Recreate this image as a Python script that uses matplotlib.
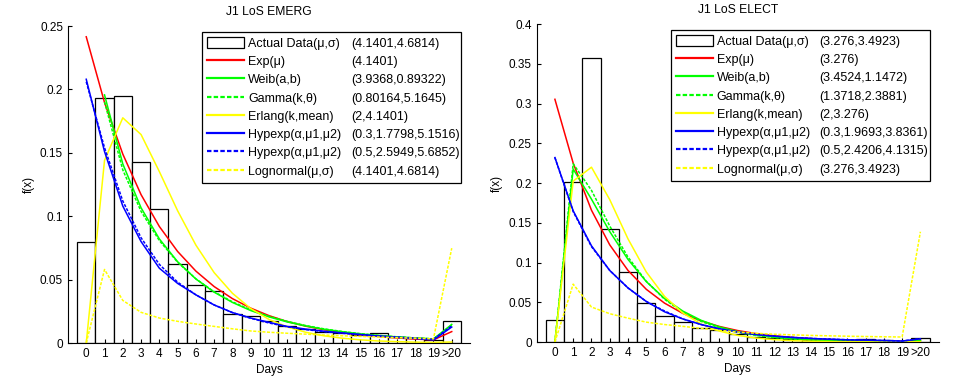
import numpy as np
import matplotlib
matplotlib.use('Agg')
import matplotlib.pyplot as plt
from matplotlib.patches import Rectangle
from matplotlib.lines import Line2D

plt.rcParams['font.family'] = ['Liberation Sans', 'DejaVu Sans']
plt.rcParams['font.size'] = 8.5

nan = np.nan
days = np.arange(21)
day_labels = [str(d) for d in range(20)] + ['>20']

labels = ['Actual Data(\u03bc,\u03c3)', 'Exp(\u03bc)', 'Weib(a,b)', 'Gamma(k,\u03b8)',
          'Erlang(k,mean)', 'Hypexp(\u03b1,\u03bc1,\u03bc2)', 'Hypexp(\u03b1,\u03bc1,\u03bc2)',
          'Lognormal(\u03bc,\u03c3)']

# J1 LoS EMERG
emerg_data = [0.0795, 0.193, 0.1946, 0.1426, 0.1056, 0.0622, 0.0457, 0.041, 0.0226, 0.021,
              0.0171, 0.0134, 0.0108, 0.0089, 0.0076, 0.0063, 0.0079, 0.005, 0.0042, 0.0021, 0.0173]
emerg_exp = [0.2415, 0.1897, 0.149, 0.117, 0.0919, 0.0722, 0.0567, 0.0445, 0.035, 0.0275,
             0.0216, 0.0169, 0.0133, 0.0105, 0.0082, 0.0064, 0.0051, 0.004, 0.0031, 0.0025, 0.009]
emerg_weib = [nan, 0.1957, 0.1412, 0.1066, 0.0821, 0.0641, 0.0505, 0.0401, 0.032, 0.0256,
              0.0206, 0.0166, 0.0135, 0.0109, 0.0089, 0.0072, 0.0059, 0.0048, 0.004, 0.0032, 0.0147]
emerg_gamma = [nan, 0.1901, 0.1365, 0.1038, 0.0808, 0.0637, 0.0506, 0.0404, 0.0325, 0.0261,
               0.0211, 0.0171, 0.0138, 0.0112, 0.0091, 0.0074, 0.006, 0.0049, 0.004, 0.0033, 0.014]
emerg_erlang = [0, 0.144, 0.1776, 0.1644, 0.1352, 0.1043, 0.0772, 0.0555, 0.0392, 0.0272,
                0.0186, 0.0127, 0.0085, 0.0057, 0.0038, 0.0025, 0.0016, 0.0011, 0.0007, 0.0005, 0.0008]
emerg_hyp1 = [0.208, 0.151, 0.108, 0.080, 0.059, 0.047, 0.038, 0.030, 0.024, 0.0197,
              0.0163, 0.013, 0.011, 0.0093, 0.008, 0.0067, 0.0055, 0.0045, 0.0036, 0.0024, 0.0126]
emerg_hyp2 = [0.206, 0.154, 0.112, 0.083, 0.062, 0.048, 0.038, 0.030, 0.024, 0.0195,
              0.0158, 0.0128, 0.0106, 0.009, 0.0077, 0.0066, 0.0055, 0.0046, 0.0038, 0.003, 0.0135]
emerg_logn = [0, 0.058, 0.0336, 0.0242, 0.0197, 0.0171, 0.015, 0.0131, 0.0112, 0.0095,
              0.0085, 0.0077, 0.007, 0.0063, 0.0057, 0.0052, 0.0047, 0.0042, 0.0038, 0.0033, 0.0748]
emerg_params = ['(4.1401,4.6814)', '(4.1401)', '(3.9368,0.89322)', '(0.80164,5.1645)',
                '(2,4.1401)', '(0.3,1.7798,5.1516)', '(0.5,2.5949,5.6852)', '(4.1401,4.6814)']

# J1 LoS ELECT
elect_data = [0.0282, 0.2008, 0.357, 0.1416, 0.0887, 0.0496, 0.0321, 0.0256, 0.0178, 0.0147,
              0.0105, 0.0059, 0.0045, 0.004, 0.003, 0.0032, 0.003, 0.0032, 0.0025, 0.0015, 0.0055]
elect_exp = [0.3053, 0.225, 0.1658, 0.1222, 0.09, 0.0663, 0.0489, 0.036, 0.0266, 0.0196,
             0.0144, 0.0106, 0.0078, 0.0058, 0.0043, 0.0031, 0.0023, 0.0017, 0.0013, 0.0009, 0.0025]
elect_weib = [0, 0.2175, 0.1797, 0.1389, 0.1039, 0.076, 0.0547, 0.0389, 0.0273, 0.019,
              0.0131, 0.009, 0.0061, 0.0042, 0.0028, 0.0019, 0.0012, 0.0008, 0.0005, 0.0003, 0.002]
elect_gamma = [0, 0.2242, 0.1908, 0.1459, 0.1068, 0.0764, 0.0538, 0.0374, 0.0259, 0.0178,
               0.0122, 0.0083, 0.0056, 0.0038, 0.0026, 0.0017, 0.0012, 0.0008, 0.0005, 0.0004, 0.002]
elect_erlang = [0, 0.2024, 0.2199, 0.1791, 0.1297, 0.0881, 0.0574, 0.0364, 0.0226, 0.0138,
                0.0083, 0.005, 0.003, 0.0017, 0.001, 0.0006, 0.0003, 0.0002, 0.0001, 0.0001, 0.0005]
elect_hyp1 = [0.232, 0.165, 0.121, 0.090, 0.068, 0.051, 0.038, 0.029, 0.022, 0.0165,
              0.0125, 0.0095, 0.0073, 0.0057, 0.0045, 0.0035, 0.0028, 0.0023, 0.0019, 0.0012, 0.004]
elect_hyp2 = [0.232, 0.164, 0.120, 0.090, 0.068, 0.051, 0.039, 0.029, 0.022, 0.0167,
              0.0127, 0.0097, 0.0075, 0.0058, 0.0046, 0.0036, 0.0029, 0.0024, 0.0019, 0.0013, 0.0042]
elect_logn = [0, 0.0728, 0.044, 0.0356, 0.030, 0.025, 0.022, 0.0197, 0.0172, 0.0147,
              0.0125, 0.011, 0.0098, 0.009, 0.0083, 0.0078, 0.0073, 0.0069, 0.0066, 0.0063, 0.1387]
elect_params = ['(3.276,3.4923)', '(3.276)', '(3.4524,1.1472)', '(1.3718,2.3881)',
                '(2,3.276)', '(0.3,1.9693,3.8361)', '(0.5,2.4206,4.1315)', '(3.276,3.4923)']

styles = [('#ff0000', '-'), ('#00ff00', '-'), ('#00ff00', (0, (2, 1))), ('#ffff00', '-'),
          ('#0000ff', '-'), ('#0000ff', (0, (2, 1))), ('#ffff00', (0, (2, 1)))]


def draw_panel(ax, title, data, curves, params, ymax):
    ax.bar(days, data, width=1, facecolor='white', edgecolor='black', linewidth=0.9, zorder=1)
    handles = [Rectangle((0, 0), 1, 1, facecolor='white', edgecolor='black', linewidth=0.9)]
    for c, (col, ls) in zip(curves, styles):
        ax.plot(days, c, color=col, linestyle=ls, linewidth=1.1, zorder=2)
        handles.append(Line2D([], [], color=col, linestyle=ls, linewidth=1.6))

    ax.set_xlim(-1, 21)
    ax.set_ylim(0, ymax)
    ax.set_xticks(days)
    ax.set_xticklabels(day_labels)
    yt = np.arange(0, ymax + 1e-9, 0.05)
    ax.set_yticks(yt)
    ax.set_yticklabels(['%g' % round(v, 2) for v in yt])
    ax.tick_params(direction='in', length=3, width=0.8)
    ax.spines['top'].set_visible(False)
    ax.spines['right'].set_visible(False)
    ax.set_xlabel('Days', labelpad=3)
    ax.set_ylabel('f(x)', labelpad=4)
    ax.set_title(title, fontsize=8.7, pad=8)

    leg = ax.legend(handles, labels, loc='upper left', bbox_to_anchor=(0.333, 0.981, 0.645, 0),
                    mode='expand', borderaxespad=0, fancybox=False, edgecolor='black',
                    framealpha=1, handlelength=3.0, handleheight=1.0, handletextpad=0.3,
                    labelspacing=0.43, borderpad=0.4, fontsize=9)
    leg.get_frame().set_linewidth(0.9)
    return leg, params


fig = plt.figure(figsize=(9.6, 3.83), dpi=100)
ax1 = fig.add_axes([0.0708, 0.1044, 0.4188, 0.8277])
ax2 = fig.add_axes([0.559, 0.107, 0.4188, 0.8303])

legs = [
    (ax1,) + draw_panel(ax1, 'J1 LoS EMERG', emerg_data,
                        [emerg_exp, emerg_weib, emerg_gamma, emerg_erlang, emerg_hyp1, emerg_hyp2, emerg_logn],
                        emerg_params, 0.25),
    (ax2,) + draw_panel(ax2, 'J1 LoS ELECT', elect_data,
                        [elect_exp, elect_weib, elect_gamma, elect_erlang, elect_hyp1, elect_hyp2, elect_logn],
                        elect_params, 0.4),
]

# second column of the legend: parameter values
fig.canvas.draw()
r = fig.canvas.get_renderer()
for ax, leg, params in legs:
    inv = ax.transAxes.inverted()
    for txt, p in zip(leg.get_texts(), params):
        bb = txt.get_window_extent(r)
        y = inv.transform((0, bb.y0))[1]
        ax.text(0.704, y, p, transform=ax.transAxes, va='bottom', ha='left', fontsize=9, zorder=10)

fig.savefig('out.png', dpi=100)
